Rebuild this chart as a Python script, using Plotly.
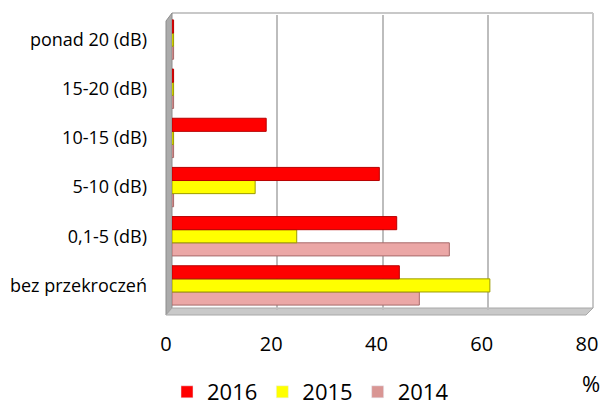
import plotly.graph_objects as go

categories = ["bez przekroczeń", "0,1-5 (dB)", "5-10 (dB)", "10-15 (dB)", "15-20 (dB)", "ponad 20 (dB)"]
years = ["2014", "2015", "2016"]
v2014 = [47.0, 52.7, 0.3, 0.3, 0.3, 0.3]
v2015 = [60.4, 23.7, 15.8, 0.3, 0.3, 0.3]
v2016 = [43.2, 42.7, 39.4, 17.9, 0.3, 0.3]
x_ticks = [0, 20, 40, 60, 80]

values = {"2014": v2014, "2015": v2015, "2016": v2016}
fills = {"2016": "#ff0000", "2015": "#ffff00", "2014": "#eba7a6"}
edges = {"2016": "#b80000", "2015": "#9c9c00", "2014": "#a86a6a"}
legend_cols = {"2016": "#ff0000", "2015": "#ffff00", "2014": "#d99694"}
rank = {"2016": 1, "2015": 2, "2014": 3}

W, H = 606, 414
L, R, T, B = 172, 13, 15, 104
PW = W - L - R
PH = H - T - B

def px(x):
    return (x - L) / PW

def py(y):
    return (H - B - y) / PH

fig = go.Figure()
for yr in years:
    fig.add_trace(go.Bar(
        y=categories, x=values[yr], orientation="h", name=yr,
        marker=dict(color=fills[yr], line=dict(color=edges[yr], width=1)),
        legendrank=rank[yr], showlegend=False,
    ))
# legend entries (drawn on a hidden overlay axis so they do not take bar slots)
for yr in ["2016", "2015", "2014"]:
    fig.add_trace(go.Bar(
        y=[None], x=[None], orientation="h", name=yr, xaxis="x2", yaxis="y2",
        marker=dict(color=legend_cols[yr]), legendrank=rank[yr], showlegend=True,
    ))

shapes = []
shapes.append(dict(type="line", xref="paper", yref="paper", x0=px(172), y0=py(13), x1=px(593), y1=py(13),
                   line=dict(color="#c8c8c8", width=2), layer="below"))
shapes.append(dict(type="line", xref="paper", yref="paper", x0=px(593), y0=py(13), x1=px(593), y1=py(308),
                   line=dict(color="#c8c8c8", width=2), layer="below"))
wall = "M {a},{b} L {c},{d} L {e},{f} L {g},{h} Z".format(
    a=px(166), b=py(21), c=px(172), d=py(13), e=px(172), f=py(308), g=px(166), h=py(315))
shapes.append(dict(type="path", xref="paper", yref="paper", path=wall,
                   fillcolor="#ababab", line=dict(color="#8c8c8c", width=1), layer="below"))
floor = "M {a},{b} L {c},{d} L {e},{f} L {g},{h} Z".format(
    a=px(166), b=py(315), c=px(172), d=py(308), e=px(593), f=py(308), g=px(586), h=py(315))
shapes.append(dict(type="path", xref="paper", yref="paper", path=floor,
                   fillcolor="#c9c9c9", line=dict(color="#a8a8a8", width=1), layer="below"))

fig.update_layout(
    width=W, height=H,
    margin=dict(l=L, r=R, t=T, b=B, pad=0, autoexpand=False),
    paper_bgcolor="white", plot_bgcolor="white",
    barmode="group", bargap=0.2, bargroupgap=0,
    font=dict(family="Open Sans", color="#000000"),
    shapes=shapes,
    xaxis=dict(range=[0, 80], tickvals=x_ticks, ticktext=[str(t) for t in x_ticks],
               showgrid=True, gridcolor="#bdbdbd", gridwidth=1.5, zeroline=False,
               showline=False, ticks="", tickfont=dict(size=20, family="Open Sans"),
               ticklabelstandoff=20, ticklabelshift=-6, automargin=False),
    yaxis=dict(categoryorder="array", categoryarray=categories, showgrid=False,
               zeroline=False, showline=False, ticks="", automargin=False,
               tickfont=dict(size=18, family="Open Sans"), ticklabelstandoff=24),
    xaxis2=dict(overlaying="x", visible=False, range=[0, 1]),
    yaxis2=dict(overlaying="y", visible=False, range=[0, 1]),
    legend=dict(orientation="h", x=px(167), xanchor="left", y=py(413), yanchor="bottom",
                font=dict(size=22, family="Open Sans"), traceorder="normal",
                itemwidth=30, bgcolor="rgba(0,0,0,0)"),
    annotations=[dict(text="%", xref="paper", yref="paper", x=px(591), y=py(383),
                      xanchor="center", yanchor="middle", showarrow=False,
                      font=dict(size=22, family="Open Sans"))],
)

fig.write_html("out.html", config={"displayModeBar": False},
               post_script="document.body.style.margin='0px';document.body.style.overflow='hidden';")
